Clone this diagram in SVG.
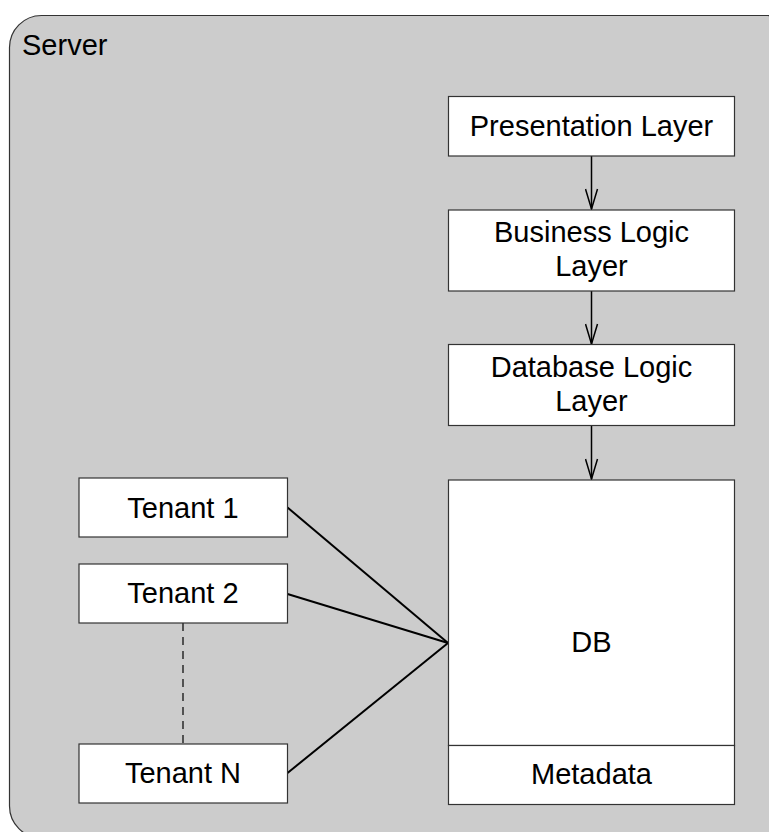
<svg xmlns="http://www.w3.org/2000/svg" width="769" height="832" viewBox="0 0 769 832">
  <defs>
    <marker id="open-arrow" viewBox="0 0 22 14" refX="21" refY="7" markerWidth="22" markerHeight="14" markerUnits="userSpaceOnUse" orient="auto">
      <path d="M1,1 L21,7 L1,13" fill="none" stroke="#000" stroke-width="1.5"/>
    </marker>
    <style>
      .box { fill: #ffffff; stroke: #333333; stroke-width: 1.2; }
      .label { font-family: "Liberation Sans", Arial, Helvetica, sans-serif; font-size: 29px; fill: #000; text-anchor: middle; }
      .flow { stroke: #000; stroke-width: 1.5; fill: none; }
      .link { stroke: #000; stroke-width: 2; fill: none; }
      .dash { stroke: #000; stroke-width: 1.2; fill: none; stroke-dasharray: 8 6; }
    </style>
  </defs>

  <rect width="769" height="832" fill="#ffffff"/>

  <!-- server container -->
  <g id="server">
    <rect x="9.5" y="15.5" width="790" height="822.5" rx="32" ry="32" fill="#cccccc" stroke="#333333" stroke-width="1.2"/>
    <text x="22" y="55" font-family="Liberation Sans, Arial, Helvetica, sans-serif" font-size="29" fill="#000">Server</text>
  </g>

  <!-- connectors -->
  <g id="connectors">
    <line class="flow" x1="591.5" y1="156" x2="591.5" y2="209" marker-end="url(#open-arrow)"/>
    <line class="flow" x1="591.5" y1="291" x2="591.5" y2="344" marker-end="url(#open-arrow)"/>
    <line class="flow" x1="591.5" y1="426" x2="591.5" y2="479" marker-end="url(#open-arrow)"/>
    <line class="link" x1="287.5" y1="507.5" x2="448" y2="643"/>
    <line class="link" x1="287.5" y1="594" x2="448" y2="643"/>
    <line class="link" x1="287.5" y1="773" x2="448" y2="643"/>
    <line class="dash" x1="183" y1="623" x2="183" y2="744"/>
  </g>

  <g id="presentation-layer">
    <rect class="box" x="448.5" y="96.5" width="286" height="59.5"/>
    <text class="label" x="591.5" y="136">Presentation Layer</text>
  </g>

  <g id="business-logic-layer">
    <rect class="box" x="448.5" y="210" width="286" height="81"/>
    <text class="label" x="591.5" y="242">Business Logic</text>
    <text class="label" x="591.5" y="276">Layer</text>
  </g>

  <g id="database-logic-layer">
    <rect class="box" x="448.5" y="344.5" width="286" height="81"/>
    <text class="label" x="591.5" y="377">Database Logic</text>
    <text class="label" x="591.5" y="411">Layer</text>
  </g>

  <g id="db">
    <rect class="box" x="448.5" y="480" width="286" height="265.5"/>
    <text class="label" x="591.5" y="652">DB</text>
  </g>

  <g id="metadata">
    <rect class="box" x="448.5" y="745.5" width="286" height="59"/>
    <text class="label" x="591.5" y="783.5">Metadata</text>
  </g>

  <g id="tenant-1">
    <rect class="box" x="79" y="478" width="208.5" height="59"/>
    <text class="label" x="183" y="517.5">Tenant 1</text>
  </g>

  <g id="tenant-2">
    <rect class="box" x="79" y="564" width="208.5" height="59"/>
    <text class="label" x="183" y="603">Tenant 2</text>
  </g>

  <g id="tenant-n">
    <rect class="box" x="79" y="744" width="208.5" height="59"/>
    <text class="label" x="183" y="783">Tenant N</text>
  </g>
</svg>
